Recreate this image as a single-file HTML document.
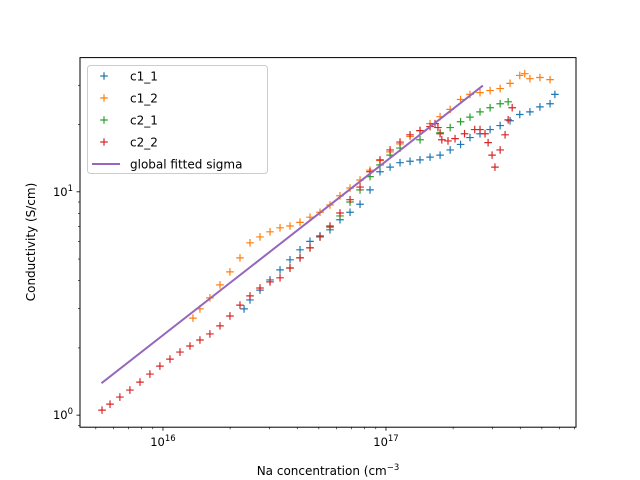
<!DOCTYPE html>
<html><head><meta charset="utf-8">
<style>body{margin:0;background:#fff}svg{display:block;font-family:"DejaVu Sans","Liberation Sans",sans-serif}</style>
</head><body>
<svg id="chart" width="640" height="480" viewBox="0 0 640 480"></svg>
<script>
// Concentrations are in units of 1e16 cm^-3; conductivity in S/cm
const c1_1_x=[2.31,2.456,2.723,3.02,3.349,3.712,4.117,4.564,5.06,5.61,6.22,6.90,7.65,8.48,9.40,10.43,11.56,12.82,14.21,15.76,17.48,19.4,21.6,23.8,26.4,29.3,32.5,36.0,39.8,44.2,49.0,54.4,57.2];
const c1_1_y=[2.99,3.28,3.63,4.03,4.47,4.96,5.50,6.0,6.35,6.76,7.5,8.1,8.8,10.2,12.3,12.9,13.5,13.7,13.9,14.3,14.6,15.4,16.3,17.5,18.2,19.0,19.8,20.8,22.2,22.8,24.0,24.8,27.3];
const c1_2_x=[1.363,1.465,1.624,1.802,1.997,2.215,2.456,2.723,3.02,3.349,3.712,4.117,4.564,5.06,5.61,6.22,6.90,7.65,8.48,9.40,10.43,11.56,12.82,14.21,15.76,17.48,19.4,21.6,23.8,26.4,29.3,32.5,36.0,39.8,41.9,44.2,49.0,54.4];
const c1_2_y=[2.72,2.99,3.35,3.83,4.38,5.06,5.91,6.28,6.62,6.9,7.03,7.3,7.7,8.1,8.73,9.6,10.4,11.3,12.5,13.8,15.1,16.4,17.7,18.8,20.2,21.7,23.4,25.9,27.3,27.8,28.4,29.0,30.6,33.2,33.8,32.1,32.5,31.8];
const c2_1_x=[3.712,4.117,4.564,5.06,5.61,6.22,6.90,7.65,8.48,9.40,10.43,11.56,14.21,17.48,19.4,21.6,23.8,26.4,29.3,32.5,35.3];
const c2_1_y=[4.56,5.06,5.61,6.28,6.95,7.8,9.0,10.2,11.7,13.2,14.6,15.7,17.1,18.4,19.4,20.6,21.6,22.8,23.8,24.8,25.3];
const c2_2_x=[0.533,0.579,0.641,0.711,0.789,0.874,0.969,1.075,1.192,1.322,1.465,1.624,1.802,1.997,2.215,2.456,2.723,3.02,3.349,3.712,4.117,4.564,5.06,5.61,6.22,6.90,7.65,8.48,9.40,10.43,11.56,12.82,14.21,15.76,16.59,17.1,17.48,17.8,18.97,20.4,22.5,25.0,26.4,27.8,28.7,29.9,30.8,32.5,34.2,35.3,36.8];
const c2_2_y=[1.053,1.12,1.205,1.295,1.406,1.527,1.658,1.782,1.916,2.04,2.17,2.31,2.51,2.78,3.11,3.42,3.71,3.95,4.12,4.56,5.06,5.61,6.28,7.03,8.04,9.22,10.5,12.3,13.9,15.4,16.7,18.0,18.8,19.6,20.2,19.4,18.2,17.1,16.9,17.3,18.2,19.0,19.0,18.2,16.6,14.6,12.9,15.4,18.0,21.0,23.8];
const fit_x=[0.53,27.2];
const fit_y=[1.39,29.9];
const seriesNames=["c1_1","c1_2","c2_1","c2_2"];
const xTickVals=[1e16,1e17];
const yTickVals=[1,10];

const NS="http://www.w3.org/2000/svg";
const svg=document.getElementById('chart');
const L=80,R=576,T=57.6,B=427.2;
const xmin=15.628,xmax=17.852,ymin=-0.054,ymax=1.601;
function X(v){return L+(Math.log10(v)-xmin)/(xmax-xmin)*(R-L);}
function Y(v){return B-(Math.log10(v)-ymin)/(ymax-ymin)*(B-T);}
function el(tag,attrs,parent){const e=document.createElementNS(NS,tag);for(const k in attrs)e.setAttribute(k,attrs[k]);(parent||svg).appendChild(e);return e;}

function plus(g,cx,cy,color){
  const p=el('path',{d:`M${cx-3.8},${cy}H${cx+3.8}M${cx},${cy-3.8}V${cy+3.8}`,stroke:color,'stroke-width':1.2,fill:'none'},g);
  
  
}
function drawSeries(name,xs,ys,color){
  const g=el('g',{});
  
  
  for(let i=0;i<xs.length;i++)plus(g,X(xs[i]*1e16),Y(ys[i]),color);
}
drawSeries('c1_1',c1_1_x,c1_1_y,'#1f77b4');
drawSeries('c1_2',c1_2_x,c1_2_y,'#ff7f0e');
drawSeries('c2_1',c2_1_x,c2_1_y,'#2ca02c');
drawSeries('c2_2',c2_2_x,c2_2_y,'#d62728');
const fl=el('polyline',{points:fit_x.map((v,i)=>X(v*1e16)+','+Y(fit_y[i])).join(' '),stroke:'#9467bd','stroke-width':2,fill:'none'});



const fr=el('rect',{x:L,y:T,width:R-L,height:B-T,fill:'none',stroke:'#000','stroke-width':1});



for(let e=15;e<=17;e++){for(let m=1;m<=9;m++){const v=m*Math.pow(10,e);const px=X(v);if(px<L-0.1||px>R+0.1)continue;
  const major=m===1;
  const t=el('line',{x1:px,x2:px,y1:B,y2:B+(major?3.5:2),stroke:'#000','stroke-width':major?0.8:0.6});
  
  
}}
xTickVals.forEach(v=>{const px=X(v);const e=Math.round(Math.log10(v));
  const t=el('text',{x:px,y:B+19,'text-anchor':'middle','font-size':11.5});
  t.innerHTML='10<tspan dy="-5" font-size="8.5">'+e+'</tspan>';
  
  
});
for(let e=-1;e<=1;e++){for(let m=1;m<=9;m++){const v=m*Math.pow(10,e);const py=Y(v);if(py<T-0.1||py>B+0.1)continue;
  const major=m===1;
  const t=el('line',{x1:L,x2:L-(major?3.5:2),y1:py,y2:py,stroke:'#000','stroke-width':major?0.8:0.6});
  
  
}}
yTickVals.forEach(v=>{const py=Y(v);const e=Math.round(Math.log10(v));
  const t=el('text',{x:L-7,y:py+4,'text-anchor':'end','font-size':11.5});
  t.innerHTML='10<tspan dy="-5" font-size="8.5">'+e+'</tspan>';
  
  
});
const xl=el('text',{x:328,y:475,'text-anchor':'middle','font-size':12});
xl.innerHTML='Na concentration (cm<tspan dy="-5" font-size="8.5">−3</tspan>';


const yl=el('text',{x:0,y:0,'text-anchor':'middle','font-size':12,transform:'translate(35,242) rotate(-90)'});
yl.textContent='Conductivity (S/cm)';



const lg=el('g',{});


el('rect',{x:87.5,y:65.5,width:180,height:108,rx:3,fill:'#fff','fill-opacity':0.8,stroke:'#ccc','stroke-width':1},lg);
const cols=['#1f77b4','#ff7f0e','#2ca02c','#d62728'];
seriesNames.forEach((n,i)=>{const y=76+i*22;
  const g=el('g',{},lg);
  
  
  plus(g,104,y,cols[i]);
  const t=el('text',{x:130,y:y+4.5,'font-size':12},g);t.textContent=n;
});
const g5=el('g',{},lg);


el('line',{x1:92,x2:120,y1:164,y2:164,stroke:'#9467bd','stroke-width':2},g5);
const t5=el('text',{x:130,y:168.5,'font-size':12},g5);t5.textContent='global fitted sigma';
</script>
</body></html>
